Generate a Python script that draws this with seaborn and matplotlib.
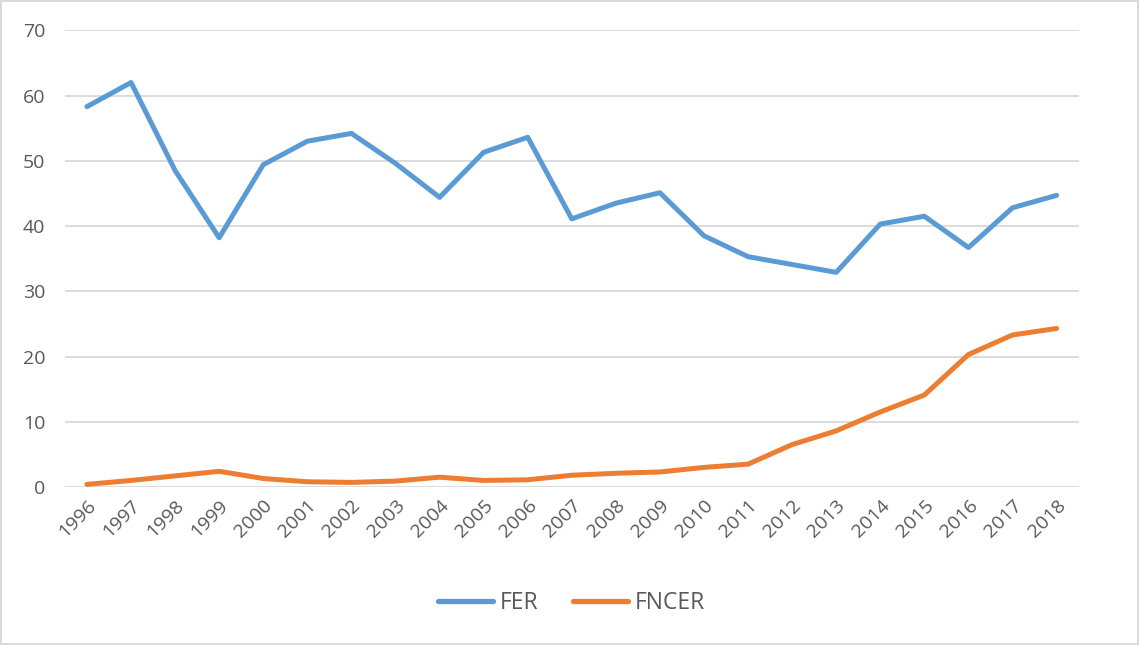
import pandas as pd
import matplotlib
matplotlib.use('Agg')
import matplotlib.pyplot as plt
import seaborn as sns

years = list(range(1996, 2019))
fer = [58.3, 62.0, 48.5, 38.2, 49.4, 53.0, 54.2, 49.6, 44.4, 51.3, 53.6, 41.1,
       43.5, 45.1, 38.5, 35.3, 34.1, 32.9, 40.3, 41.5, 36.7, 42.8, 44.7]
fncer = [0.4, 1.0, 1.7, 2.4, 1.3, 0.8, 0.7, 0.9, 1.5, 1.0, 1.1, 1.8,
         2.1, 2.3, 3.0, 3.5, 6.5, 8.6, 11.5, 14.1, 20.3, 23.3, 24.3]

df = pd.DataFrame({'year': years * 2,
                   'value': fer + fncer,
                   'series': ['FER'] * len(years) + ['FNCER'] * len(years)})

sns.set_style('white')
plt.rcParams['font.family'] = ['Open Sans', 'DejaVu Sans']
txt = '#595959'

fig = plt.figure(figsize=(11.39, 6.45), dpi=100)
fig.patch.set_edgecolor('#D9D9D9')
fig.patch.set_linewidth(1.5)
ax = fig.add_axes([0.057, 0.245, 0.890, 0.708])

sns.lineplot(data=df, x='year', y='value', hue='series',
             palette={'FER': '#5B9BD5', 'FNCER': '#ED7D31'},
             linewidth=3.6, ax=ax, legend=True)
for ln in ax.lines:
    ln.set_solid_capstyle('round')
    ln.set_solid_joinstyle('round')

ax.set_xlim(1995.5, 2018.5)
ax.set_ylim(0, 70)
ax.set_yticks(range(0, 71, 10))
ax.set_xticks(years)
ax.set_xticklabels([str(y) for y in years], rotation=45, ha='right',
                   rotation_mode='anchor')
ax.grid(axis='y', color='#D9D9D9', linewidth=1.3)
ax.set_axisbelow(True)
for s in ax.spines.values():
    s.set_visible(False)
ax.tick_params(axis='both', length=0, labelsize=14, labelcolor=txt)
ax.tick_params(axis='y', pad=14)
ax.tick_params(axis='x', pad=7)
ax.set_xlabel('')
ax.set_ylabel('')

leg = ax.legend(loc='center', bbox_to_anchor=(0.5, -0.255), ncol=2, frameon=False,
                fontsize=16.5, handlelength=2.4, handletextpad=0.3, columnspacing=1.5)
for t in leg.get_texts():
    t.set_color(txt)
for h in leg.get_lines():
    h.set_linewidth(3.8)

fig.savefig('out.png', dpi=100, edgecolor=fig.get_edgecolor())
